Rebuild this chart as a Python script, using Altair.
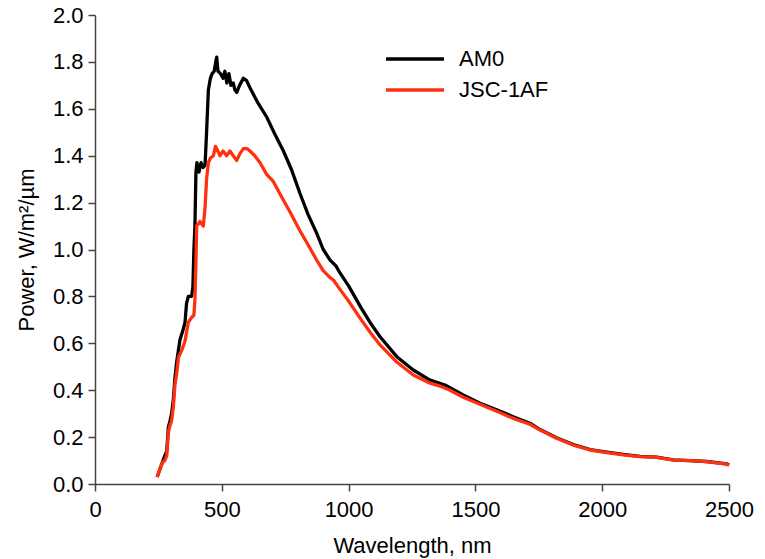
import altair as alt
import pandas as pd

# AM0 spectrum (black)
am0_wl = [245, 255, 265, 275, 283, 289, 296, 302, 309, 315, 322, 329, 335, 348, 355, 361, 368, 381,
          386, 390, 394, 398, 402, 410, 418, 426, 434, 440, 447, 455, 462, 470, 476, 480, 485, 495,
          505, 512, 520, 528, 536, 545, 552, 559, 570, 585, 598, 611, 640, 677, 710, 743, 775, 808,
          840, 874, 900, 927, 950, 966, 1000, 1050, 1090, 1124, 1190, 1255, 1321, 1380, 1452, 1518,
          1584, 1649, 1715, 1755, 1820, 1886, 1952, 2018, 2083, 2149, 2215, 2280, 2346, 2412, 2491, 2500]
am0_p = [0.03, 0.06, 0.09, 0.12, 0.14, 0.24, 0.27, 0.30, 0.36, 0.45, 0.52, 0.57, 0.615, 0.66, 0.69, 0.77, 0.80, 0.80,
         0.84, 1.00, 1.10, 1.33, 1.37, 1.33, 1.37, 1.35, 1.36, 1.50, 1.68, 1.73, 1.75, 1.76, 1.80, 1.82, 1.76, 1.75,
         1.73, 1.76, 1.71, 1.75, 1.70, 1.71, 1.68, 1.67, 1.70, 1.73, 1.72, 1.69, 1.63, 1.565, 1.49, 1.42, 1.34, 1.24,
         1.15, 1.07, 1.00, 0.955, 0.93, 0.90, 0.845, 0.75, 0.68, 0.628, 0.543, 0.486, 0.443, 0.422, 0.38, 0.344,
         0.316, 0.287, 0.259, 0.232, 0.197, 0.168, 0.147, 0.136, 0.126, 0.118, 0.115, 0.103, 0.100, 0.096, 0.086, 0.081]

# JSC-1AF (red)
jsc_wl = [245, 255, 265, 275, 283, 289, 296, 302, 309, 315, 322, 329, 342, 355, 368, 381, 390, 394, 398,
          401, 414, 427, 434, 440, 447, 455, 467, 475, 480, 493, 505, 519, 532, 545, 559, 572, 585, 600,
          611, 630, 651, 677, 703, 743, 769, 808, 835, 874, 900, 927, 940, 966, 1000, 1050, 1090, 1124,
          1190, 1255, 1321, 1367, 1400, 1452, 1518, 1584, 1649, 1715, 1755, 1820, 1886, 1952, 2018, 2083,
          2149, 2215, 2280, 2346, 2412, 2491, 2500]
jsc_p = [0.03, 0.06, 0.09, 0.10, 0.12, 0.22, 0.25, 0.27, 0.33, 0.42, 0.47, 0.54, 0.57, 0.61, 0.69, 0.71, 0.72, 0.785, 0.95,
         1.10, 1.12, 1.10, 1.18, 1.30, 1.37, 1.39, 1.40, 1.44, 1.43, 1.40, 1.42, 1.40, 1.42, 1.40, 1.38, 1.41, 1.43, 1.43,
         1.42, 1.40, 1.37, 1.32, 1.29, 1.21, 1.16, 1.08, 1.03, 0.955, 0.91, 0.88, 0.87, 0.83, 0.78, 0.70, 0.64, 0.593,
         0.52, 0.465, 0.43, 0.415, 0.40, 0.37, 0.34, 0.31, 0.28, 0.255, 0.23, 0.195, 0.166, 0.145, 0.134, 0.124,
         0.117, 0.114, 0.102, 0.100, 0.095, 0.085, 0.080]

series_names = ["AM0", "JSC-1AF"]
series_colors = ["#000000", "#ff3010"]
x_ticks = [0, 500, 1000, 1500, 2000, 2500]
y_ticks = [0.0, 0.2, 0.4, 0.6, 0.8, 1.0, 1.2, 1.4, 1.6, 1.8, 2.0]

df = pd.concat([
    pd.DataFrame({"wl": am0_wl, "p": am0_p, "series": series_names[0], "ord": range(len(am0_wl))}),
    pd.DataFrame({"wl": jsc_wl, "p": jsc_p, "series": series_names[1], "ord": range(len(jsc_wl))}),
], ignore_index=True)

FONT = "Liberation Sans"

chart = alt.Chart(df).mark_line(strokeWidth=3.3, strokeJoin="round").encode(
    x=alt.X("wl:Q", scale=alt.Scale(domain=[0, 2500], nice=False),
            axis=alt.Axis(title="Wavelength, nm", values=x_ticks, format="d", labelFlush=False,
                          grid=False, tickSize=7, labelPadding=8, titlePadding=15)),
    y=alt.Y("p:Q", scale=alt.Scale(domain=[0, 2.0], nice=False),
            axis=alt.Axis(title="Power, W/m²/µm", values=y_ticks, format=".1f", grid=False,
                          tickSize=7, labelPadding=5, titlePadding=14)),
    color=alt.Color("series:N", scale=alt.Scale(domain=series_names, range=series_colors),
                    legend=alt.Legend(title=None, orient="none", legendX=308, legendY=32,
                                      symbolType="M-2.9,0H2.9", symbolSize=400, symbolStrokeWidth=3.5,
                                      labelFontSize=22, labelFont=FONT, labelColor="#000000",
                                      labelOffset=32, rowPadding=8)),
    order="ord:Q",
).properties(
    width=634, height=469,
    autosize=alt.AutoSizeParams(type="none"),
    padding={"left": 95, "top": 15, "right": 36, "bottom": 75},
).configure_view(stroke=None).configure_axis(
    labelFont=FONT, titleFont=FONT, labelFontSize=22, titleFontSize=22,
    labelColor="#000000", titleColor="#000000", titleFontWeight="normal",
    domainColor="#444444", tickColor="#444444", domainWidth=1.5, tickWidth=1.5,
)

chart.save("out.html", embed_options={"renderer": "svg", "actions": False})
